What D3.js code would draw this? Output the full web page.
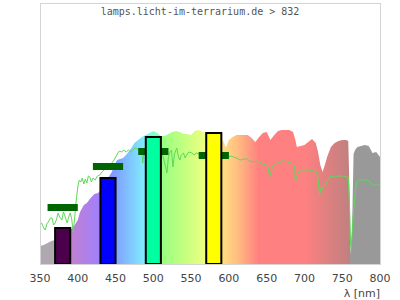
<!DOCTYPE html>
<html>
<head>
<meta charset="utf-8">
<script src="https://cdn.jsdelivr.net/npm/d3@7"></script>
<style>
  body { margin: 0; background: #fff; }
  svg { display: block; }
</style>
</head>
<body>
<svg id="chart" width="400" height="300"></svg>
<script>
// solar reference spectrum (filled area), relative units
var sunNm = [350, 355, 360, 365, 370, 380, 390, 395, 400, 403, 408, 412, 417, 422, 427, 432, 440, 445, 448, 452,
  460, 465, 470, 475, 480, 485, 490, 495, 500, 505, 510, 515, 520, 525, 530, 535, 540, 545, 550, 555,
  560, 565, 570, 580, 590, 593, 596, 600, 605, 610, 620, 625, 630, 635, 640, 645, 650, 655, 660, 665,
  670, 680, 685, 688, 690, 695, 700, 705, 710, 715, 718, 721, 724, 727, 730, 735, 740, 745, 750, 755,
  758, 760, 761, 763, 765, 767, 770, 775, 780, 785, 788, 790, 795, 800]
var sunVal = [18, 19, 21, 23, 24, 28, 34, 38, 44, 52, 59, 61, 66, 70, 71, 76, 86, 92, 98, 104,
  106, 110, 115, 121, 124, 127, 129, 131, 133, 131, 128, 128, 130, 132, 133, 132, 130, 130, 129, 133,
  134, 132, 131, 130, 126, 122, 116, 124, 127, 129, 129, 129, 126, 122, 127, 131, 132, 124, 129, 133,
  134, 134, 132, 124, 117, 118, 119, 122, 125, 121, 112, 99, 92, 99, 107, 117, 121, 123, 124, 124,
  123, 64, 9, 34, 110, 114, 117, 118, 119, 118, 114, 111, 112, 107]

// lamp spectrum (green line)
var lampNm = [350, 352, 355, 357, 359, 361, 364, 366, 368, 370, 372, 374, 376, 379, 381, 383, 386, 388, 390, 392,
  394, 396, 398, 400, 402, 404, 406, 408, 410, 412, 414, 416, 418, 420, 423, 426, 429, 432, 436, 440,
  444, 448, 451, 453, 455, 458, 461, 464, 467, 470, 473, 476, 479, 482, 485, 486, 488, 492, 500, 508,
  511, 513, 515, 517, 518, 520, 522, 524, 526, 528, 531, 533, 535, 537, 540, 542, 544, 547, 551, 554,
  557, 560, 570, 580, 591, 595, 599, 603, 606, 610, 615, 620, 624, 628, 632, 636, 641, 645, 650, 652,
  654, 656, 657, 660, 665, 668, 671, 674, 678, 682, 685, 687, 688, 690, 692, 695, 698, 702, 707, 712,
  716, 718, 720, 722, 723, 725, 728, 731, 735, 738, 741, 745, 751, 755, 758, 760, 761, 762, 763, 764,
  766, 767, 769, 772, 776, 781, 785, 787, 790, 791, 795, 797, 800]
var lampVal = [41, 41, 36, 34, 40, 42, 46, 46, 39, 41, 45, 51, 47, 44, 52, 48, 41, 47, 51, 45,
  32, 47, 64, 77, 84, 82, 86, 80, 85, 81, 88, 87, 82, 86, 84, 88, 89, 92, 95, 98,
  100, 104, 108, 111, 113, 112, 114, 112, 114, 112, 114, 116, 115, 114, 110, 101, 113, 114, 116, 114,
  111, 107, 101, 95, 91, 107, 112, 114, 97, 110, 116, 108, 104, 109, 111, 106, 109, 112, 111, 109,
  111, 110, 108, 108, 109, 107, 107, 108, 107, 106, 104, 105, 105, 103, 102, 103, 102, 100, 99, 97,
  87, 92, 97, 100, 101, 102, 103, 103, 102, 101, 100, 98, 82, 88, 92, 93, 94, 94, 94, 93,
  92, 86, 69, 76, 74, 78, 79, 84, 88, 87, 87, 88, 88, 87, 87, 51, 20, 14, 30, 44,
  62, 69, 82, 84, 84, 84, 83, 82, 79, 78, 80, 79, 79]

// measured bands: dark green markers
var bandFrom = [360, 420, 480, 560]
var bandTo = [400, 460, 520, 600]
var bandVal = [56.5, 97.5, 112.5, 108.5]

// lamp bars
var barFrom = [370, 430, 490, 570]
var barTo = [390, 450, 510, 590]
var barVal = [36, 86, 127, 131]
var barColor = ['#4c004c', '#0000ff', '#00ffa0', '#ffff00']

var xTicks = [350, 400, 450, 500, 550, 600, 650, 700, 750, 800]

// colour of the sun area along the wavelength
var grad = [[350, '#b0a8b0'], [372, '#b0a8b0'], [392, '#c080d0'], [430, '#a080ff'], [450, '#80a0ff'],
  [490, '#80f0ff'], [500, '#80ffc8'], [512, '#98ff80'], [565, '#e8ff80'], [575, '#ffff80'],
  [590, '#ffe080'], [610, '#ffc080'], [640, '#ff8080'], [700, '#ff8080'], [760.5, '#c08080'],
  [761, '#999999'], [800, '#999999']]

var svg = d3.select('#chart')
var plotL = 40, plotR = 380, plotT = 4, plotB = 264

var x = d3.scaleLinear().domain([350, 800]).range([plotL, plotR])
var y = d3.scaleLinear().domain([0, 260]).range([plotB, plotT])

var defs = svg.append('defs')
var lg = defs.append('linearGradient')
    .attr('id', 'spec')
    .attr('gradientUnits', 'userSpaceOnUse')
    .attr('x1', x(350)).attr('x2', x(800))
    .attr('y1', 0).attr('y2', 0)
lg.selectAll('stop').data(grad).enter().append('stop')
    .attr('offset', function (d) { return (d[0] - 350) / 450 })
    .attr('stop-color', function (d) { return d[1] })

svg.append('text')
    .attr('x', 200).attr('y', 15)
    .attr('text-anchor', 'middle')
    .attr('font-family', 'DejaVu Sans Mono')
    .attr('font-size', 10)
    .attr('fill', '#555')
    .text('lamps.licht-im-terrarium.de > 832')

var sun = sunNm.map(function (d, i) { return [d, sunVal[i]] })
var area = d3.area()
    .x(function (d) { return x(d[0]) })
    .y0(y(0))
    .y1(function (d) { return y(d[1]) })
svg.append('path')
    .datum(sun)
    .attr('d', area)
    .attr('fill', 'url(#spec)')

var lamp = lampNm.map(function (d, i) { return [d, lampVal[i]] })
var line = d3.line()
    .x(function (d) { return x(d[0]) })
    .y(function (d) { return y(d[1]) })
svg.append('path')
    .datum(lamp)
    .attr('d', line)
    .attr('fill', 'none')
    .attr('stroke', '#60d85a')
    .attr('stroke-width', 1)

svg.selectAll('.band')
    .data(bandVal)
  .enter().append('rect')
    .attr('class', 'band')
    .attr('x', function (d, i) { return x(bandFrom[i]) })
    .attr('width', function (d, i) { return x(bandTo[i]) - x(bandFrom[i]) })
    .attr('y', function (d) { return y(d) - 3.5 })
    .attr('height', 7)
    .attr('fill', '#006400')

svg.selectAll('.bar')
    .data(barVal)
  .enter().append('rect')
    .attr('class', 'bar')
    .attr('x', function (d, i) { return x(barFrom[i]) })
    .attr('width', function (d, i) { return x(barTo[i]) - x(barFrom[i]) })
    .attr('y', function (d) { return y(d) })
    .attr('height', function (d) { return y(0) - y(d) })
    .attr('fill', function (d, i) { return barColor[i] })
    .attr('stroke', '#000')
    .attr('stroke-width', 2)

svg.append('rect')
    .attr('x', plotL + 0.5).attr('y', 3.5)
    .attr('width', plotR - plotL).attr('height', plotB - 3)
    .attr('fill', 'none')
    .attr('stroke', '#d4d4d4')

svg.selectAll('.tick')
    .data(xTicks)
  .enter().append('text')
    .attr('class', 'tick')
    .attr('x', function (d) { return x(d) })
    .attr('y', 282)
    .attr('text-anchor', 'middle')
    .attr('font-family', 'DejaVu Sans')
    .attr('font-size', 11)
    .attr('fill', '#444')
    .text(function (d) { return d })

svg.append('text')
    .attr('x', 380).attr('y', 297)
    .attr('text-anchor', 'end')
    .attr('font-family', 'DejaVu Sans')
    .attr('font-size', 11)
    .attr('fill', '#444')
    .text('λ [nm]')
</script>
</body>
</html>
